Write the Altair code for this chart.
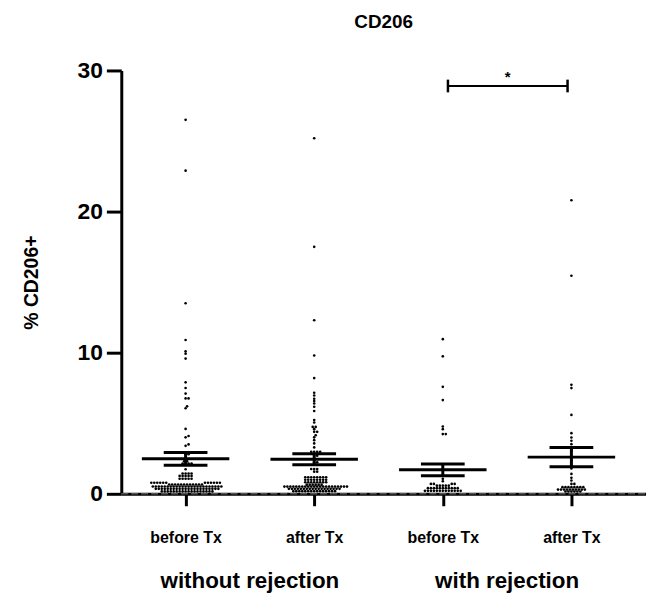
import altair as alt
import pandas as pd

# ---------------- data ----------------
group_x = [1, 2, 3, 4]
x_labels = ["before Tx", "after Tx", "before Tx", "after Tx"]
cohort_labels = ["without rejection", "with rejection"]
cohort_x = [1.5, 3.5]

# dot values per group (level value, number of dots at that level)
g1_levels = [0.17, 0.35, 0.52, 0.66, 0.78, 1.07, 1.27, 1.44, 1.74, 2.15, 2.3, 2.8,
             3.4, 3.5, 4.0, 4.1, 4.6, 6.06, 6.2, 6.76, 7.1, 7.5, 7.9, 9.58, 9.93,
             10.1, 10.9, 13.5, 22.9, 26.5]
g1_counts = [18, 22, 24, 12, 12, 5, 5, 4, 1, 4, 2, 2,
             1, 1, 1, 1, 1, 1, 1, 2, 1, 1, 1, 1, 1,
             1, 1, 1, 1, 1]

g2_levels = [0.19, 0.35, 0.51, 0.65, 0.82, 1.0, 1.17, 1.57, 1.76, 2.23, 2.7, 2.98,
             3.29, 3.57, 3.8, 4.0, 4.15, 4.39, 4.58, 4.74, 5.05, 5.23, 5.87, 6.17,
             6.4, 6.57, 6.74, 6.97, 7.16, 8.2, 9.8, 12.3, 17.5, 25.2]
g2_counts = [15, 18, 22, 6, 8, 8, 8, 2, 3, 2, 2, 4,
             1, 1, 1, 1, 1, 2, 1, 2, 1, 1, 1, 1,
             1, 1, 1, 1, 1, 1, 1, 1, 1, 1]

g3_levels = [0.21, 0.4, 0.58, 0.7, 0.89, 1.06, 4.23, 4.58, 4.77, 6.64, 7.58, 9.74, 10.96]
g3_counts = [13, 11, 5, 4, 1, 1, 2, 1, 1, 1, 1, 1, 1]

g4_levels = [0.16, 0.3, 0.47, 0.7, 0.94, 1.13, 1.41, 1.8, 2.0, 2.35, 2.58, 3.1, 3.3,
             3.52, 3.76, 3.99, 4.3, 5.59, 7.49, 7.72, 15.45, 20.8]
g4_counts = [6, 10, 8, 2, 1, 1, 1, 1, 1, 1, 1, 1, 1,
             1, 1, 1, 1, 1, 1, 1, 1, 1]

means = [2.48, 2.45, 1.70, 2.60]
sems = [0.45, 0.39, 0.42, 0.68]

bracket_x = [3.04, 3.97]
bracket_y = 28.9
bracket_tick = [28.45, 29.35]
star_y = 29.5
star_text = "*"

# ---------------- layout constants ----------------
W, H = 528, 426
X_DOMAIN = [0.5, 4.58]
Y_DOMAIN = [0, 30]
PX_X = W / (X_DOMAIN[1] - X_DOMAIN[0])
PX_Y = H / (Y_DOMAIN[1] - Y_DOMAIN[0])
FONT = "Liberation Sans"


def beeswarm(values, step=1.5, diam=2.4):
    """greedy beeswarm layout: returns horizontal offsets in pixels"""
    placed = []
    offs = []
    for v in values:
        py = v * PX_Y
        k = 0
        while True:
            cand = ((k + 1) // 2) * step * (1 if k % 2 == 1 else -1) if k else 0.0
            ok = all((cand - ox) ** 2 + (py - oy) ** 2 >= diam ** 2 for ox, oy in placed)
            if ok:
                break
            k += 1
        placed.append((cand, py))
        offs.append(cand)
    return offs


rows = []
for gx, levels, counts in zip(group_x,
                              [g1_levels, g2_levels, g3_levels, g4_levels],
                              [g1_counts, g2_counts, g3_counts, g4_counts]):
    vals = []
    for lv, c in zip(levels, counts):
        vals += [lv] * c
    vals.sort()
    for v, o in zip(vals, beeswarm(vals)):
        rows.append({"group": gx, "value": v, "xpos": gx + o / PX_X})
dots = pd.DataFrame(rows)

stats = pd.DataFrame({"group": group_x, "mean": means, "sem": sems})
stats["hi"] = stats["mean"] + stats["sem"]
stats["lo"] = stats["mean"] - stats["sem"]
stats["m1"] = stats["group"] - 44 / PX_X
stats["m2"] = stats["group"] + 44 / PX_X
stats["c1"] = stats["group"] - 22 / PX_X
stats["c2"] = stats["group"] + 22 / PX_X

xscale = alt.Scale(domain=X_DOMAIN, nice=False, zero=False)
yscale = alt.Scale(domain=Y_DOMAIN, nice=False)

label_arr = "[" + ",".join("'" + s + "'" for s in x_labels) + "]"
xaxis = alt.Axis(values=group_x, labelExpr=label_arr + "[datum.value-1]", title="",
                 tickSize=12, tickWidth=3, tickColor="black", domainWidth=3,
                 domainColor="black", labelFontSize=16, labelFontWeight="bold",
                 labelColor="black", labelPadding=24, grid=False, labelFont=FONT)
yaxis = alt.Axis(values=[0, 10, 20, 30], title="% CD206+", titleFontSize=19.5,
                 titleFontWeight="bold", titleColor="black", titleX=-90, titleY=H / 2,
                 titleAngle=270, titleBaseline="middle", titleAlign="center", titleFont=FONT,
                 tickSize=15, tickWidth=3, tickColor="black", domainWidth=3,
                 domainColor="black", labelFontSize=23, labelFontWeight="bold",
                 labelColor="black", labelPadding=4, grid=False, labelFont=FONT)

X = lambda f: alt.X(f, scale=xscale, axis=xaxis)
Y = lambda f: alt.Y(f, scale=yscale, axis=yaxis)

base = alt.Chart(stats)

dot_layer = alt.Chart(dots).mark_circle(size=7, color="black", opacity=1).encode(
    x=X("xpos:Q"), y=Y("value:Q"))

mean_layer = base.mark_rule(strokeWidth=3, color="black").encode(
    x=X("m1:Q"), x2="m2:Q", y=Y("mean:Q"))
cap_hi = base.mark_rule(strokeWidth=3, color="black").encode(
    x=X("c1:Q"), x2="c2:Q", y=Y("hi:Q"))
cap_lo = base.mark_rule(strokeWidth=3, color="black").encode(
    x=X("c1:Q"), x2="c2:Q", y=Y("lo:Q"))
sem_v = base.mark_rule(strokeWidth=3, color="black").encode(
    x=X("group:Q"), y=Y("lo:Q"), y2="hi:Q")

zero_df = pd.DataFrame({"x1": [X_DOMAIN[0]], "x2": [X_DOMAIN[1]], "y": [0]})
zero_line = alt.Chart(zero_df).mark_rule(strokeWidth=1.5, color="#555", strokeDash=[7, 3]).encode(
    x=X("x1:Q"), x2="x2:Q", y=Y("y:Q"))

br_df = pd.DataFrame({"x1": [bracket_x[0]], "x2": [bracket_x[1]], "y": [bracket_y]})
br_line = alt.Chart(br_df).mark_rule(strokeWidth=2, color="black").encode(
    x=X("x1:Q"), x2="x2:Q", y=Y("y:Q"))
brt_df = pd.DataFrame({"x": bracket_x, "y1": [bracket_tick[0]] * 2, "y2": [bracket_tick[1]] * 2})
br_ticks = alt.Chart(brt_df).mark_rule(strokeWidth=2.5, color="black").encode(
    x=X("x:Q"), y=Y("y1:Q"), y2="y2:Q")
star_df = pd.DataFrame({"x": [sum(bracket_x) / 2], "y": [star_y], "t": [star_text]})
star = alt.Chart(star_df).mark_text(fontSize=15, fontWeight="bold", font=FONT,
                                    color="black", baseline="middle").encode(
    x=X("x:Q"), y=Y("y:Q"), text="t:N")

coh_df = pd.DataFrame({"x": cohort_x, "t": cohort_labels})
cohort = alt.Chart(coh_df).mark_text(fontSize=22.5, fontWeight="bold", font=FONT,
                                     color="black", baseline="middle").encode(
    x=X("x:Q"), y=alt.value(H + 88), text="t:N")

chart = alt.layer(dot_layer, zero_line, mean_layer, cap_hi, cap_lo, sem_v,
                  br_line, br_ticks, star, cohort).properties(
    width=W, height=H,
    title=alt.TitleParams("CD206", fontSize=19, fontWeight="bold", font=FONT,
                          color="black", anchor="middle", offset=28),
    autosize=alt.AutoSizeParams(type="none"),
    padding={"left": 114, "top": 61, "right": 0, "bottom": 105},
).configure(font=FONT).configure_view(strokeWidth=0, stroke="transparent")

chart.save("out.html", embed_options={"renderer": "svg", "actions": False})
